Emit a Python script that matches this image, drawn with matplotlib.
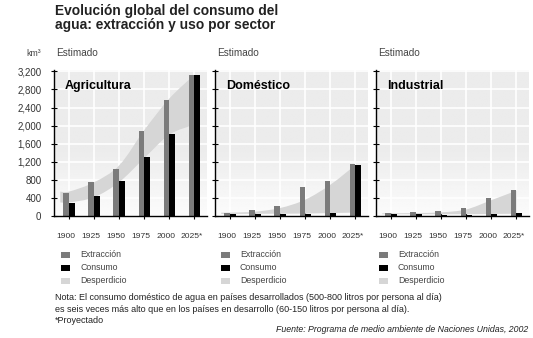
import numpy as np
import matplotlib
matplotlib.use('Agg')
import matplotlib.pyplot as plt
from matplotlib.path import Path
from matplotlib.patches import PathPatch, Rectangle
from matplotlib.transforms import ScaledTranslation

plt.rcParams['font.family'] = ['Liberation Sans', 'DejaVu Sans']

# Datos (km3) por sector
anios = ['1900', '1925', '1950', '1975', '2000', '2025*']
sectores = ['Agricultura', 'Doméstico', 'Industrial']

agri_extraccion = [510, 745, 1050, 1870, 2575, 3125]
agri_consumo = [280, 450, 775, 1310, 1805, 3125]
agri_desp_sup = [540, 745, 1120, 1900, 2600, 3125]
agri_desp_inf = [300, 415, 750, 1280, 1800, 2020]

dom_extraccion = [75, 130, 220, 650, 770, 1160]
dom_consumo = [45, 50, 50, 50, 75, 1135]
dom_desp_sup = [75, 96, 177, 361, 692, 1128]
dom_desp_inf = [45, 50, 50, 55, 65, 75]

ind_extraccion = [65, 95, 110, 185, 390, 580]
ind_consumo = [35, 35, 30, 25, 45, 75]
ind_desp_sup = [59, 66, 81, 145, 350, 560]
ind_desp_inf = [40, 40, 40, 40, 45, 50]

yticks = [0, 400, 800, 1200, 1600, 2000, 2400, 2800, 3200]

C_EXT = '#7b7b7b'
C_CONS = '#000000'
C_DESP = '#d6d6d6'
GRIS_TXT = '#444444'


def curva_suave(xs, ys):
    # Catmull-Rom -> segmentos bezier cubicos
    p = np.column_stack([xs, ys]).astype(float)
    p = np.vstack([p[0], p, p[-1]])
    verts = []
    for i in range(1, len(p) - 2):
        c1 = p[i] + (p[i + 1] - p[i - 1]) / 6
        c2 = p[i + 1] - (p[i + 2] - p[i]) / 6
        verts += [c1, c2, p[i + 1]]
    return p[1], verts


def banda(ax, xs, sup, inf):
    ini_s, vs = curva_suave(xs, sup)
    ini_i, vi = curva_suave(xs[::-1], inf[::-1])
    verts = [ini_s] + vs + [ini_i] + vi + [ini_s]
    codes = ([Path.MOVETO] + [Path.CURVE4] * len(vs) + [Path.LINETO]
             + [Path.CURVE4] * len(vi) + [Path.CLOSEPOLY])
    ax.add_patch(PathPatch(Path(verts, codes), facecolor=C_DESP,
                           edgecolor='none', zorder=1.5))


fig = plt.figure(figsize=(5.33, 3.38), dpi=100)
W, H = 533, 338

x = np.arange(len(anios))
ancho = 0.23
datos = [
    (agri_extraccion, agri_consumo, agri_desp_sup, agri_desp_inf),
    (dom_extraccion, dom_consumo, dom_desp_sup, dom_desp_inf),
    (ind_extraccion, ind_consumo, ind_desp_sup, ind_desp_inf),
]
izq_px = [54, 215, 376]
leg_px = [61, 221, 379]

# degradado de fondo
grad = np.concatenate([np.linspace(0.985, 0.925, 45), np.full(55, 0.925)])[::-1].reshape(-1, 1)

for k, (ext, cons, dsup, dinf) in enumerate(datos):
    ax = fig.add_axes([izq_px[k] / W, (H - 216) / H, 153 / W, 146 / H])
    ax.imshow(grad, extent=[0, 1, 0, 1], transform=ax.transAxes, aspect='auto',
              cmap='gray', vmin=0, vmax=1, zorder=0, interpolation='bilinear')
    ax.set_autoscale_on(False)

    xb = np.r_[x[0] - 0.35, x]
    banda(ax, xb, np.r_[dsup[0], dsup], np.r_[dinf[0], dinf])
    ax.bar(x - ancho / 2, ext, ancho, color=C_EXT, zorder=2)
    ax.bar(x + ancho / 2, cons, ancho, color=C_CONS, zorder=2)

    ax.set_xlim(-0.6, 5.5)
    ax.set_ylim(0, 3230)
    ax.set_xticks(x)
    ax.set_xticklabels(anios, fontsize=6.1, color='#333333')
    ax.set_yticks(yticks)
    if k == 0:
        ax.set_yticklabels([f'{v:,}' for v in yticks], fontsize=7, color='#333333')
    else:
        ax.set_yticklabels([])
    ax.tick_params(axis='y', direction='inout', length=4, width=0.8, pad=7)
    ax.tick_params(axis='x', direction='inout', length=4, width=0.8, pad=10.5)
    desplaza = ScaledTranslation(-3 / 100, 0, fig.dpi_scale_trans)
    for lab in ax.get_xticklabels():
        lab.set_transform(lab.get_transform() + desplaza)

    ax.grid(True, color='white', linewidth=1.2)
    ax.set_axisbelow(True)
    for s in ['top', 'right']:
        ax.spines[s].set_visible(False)
    for s in ['left', 'bottom']:
        ax.spines[s].set_linewidth(1.0)

    ax.text(0.07, 0.89, sectores[k], transform=ax.transAxes, fontsize=9,
            fontweight='bold', va='center', ha='left', zorder=3)
    fig.text((izq_px[k] + 2) / W, 1 - 56.5 / H, 'Estimado', fontsize=7.2,
             color=GRIS_TXT, va='baseline')

    # leyenda
    for j, (nom, col) in enumerate([('Extracción', C_EXT), ('Consumo', C_CONS),
                                    ('Desperdicio', C_DESP)]):
        yc = 254.5 + j * 13
        fig.add_artist(Rectangle((leg_px[k] / W, 1 - (yc + 3) / H), 9 / W, 6 / H,
                                 transform=fig.transFigure, facecolor=col,
                                 edgecolor='none'))
        fig.text((leg_px[k] + 19) / W, 1 - yc / H, nom, fontsize=6.3,
                 color=GRIS_TXT, va='center')

fig.text(26 / W, 1 - 56.5 / H, 'km³', fontsize=6.3, color=GRIS_TXT, va='baseline')

fig.text(55 / W, 1 - 15 / H, 'Evolución global del consumo del', fontsize=9.9,
         fontweight='bold', color='#222222', va='baseline')
fig.text(55 / W, 1 - 28.5 / H, 'agua: extracción y uso por sector', fontsize=9.9,
         fontweight='bold', color='#222222', va='baseline')

nota = ('Nota: El consumo doméstico de agua en países desarrollados (500-800 litros por persona al día)\n'
        'es seis veces más alto que en los países en desarrollo (60-150 litros por persona al día).\n'
        '*Proyectado')
fig.text(55 / W, 1 - 293.5 / H, nota, fontsize=6.5, color='#222222', va='top',
         linespacing=1.3)
fig.text(528 / W, 1 - 329 / H, 'Fuente: Programa de medio ambiente de Naciones Unidas, 2002',
         fontsize=6.3, style='italic', color='#222222', ha='right', va='center')

fig.savefig('out.png', dpi=100)
